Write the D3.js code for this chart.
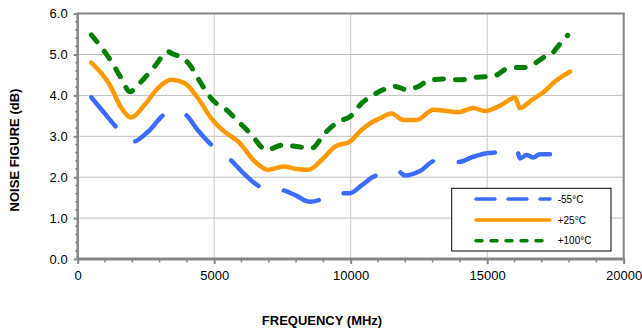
<!DOCTYPE html>
<html><head><meta charset="utf-8">
<script src="https://cdn.jsdelivr.net/npm/d3@7"></script>
<style>
html,body{margin:0;padding:0;background:#fff;}
svg{display:block;font-family:Arial,"Liberation Sans",sans-serif;}
</style></head>
<body><svg id="chart" width="642" height="329"></svg>
<script>
// ---- data ----
const seriesNames = ["-55°C", "+25°C", "+100°C"];
const freqMinus55 = [500,1000,1476,2026,2575,3187,3500,3919,4400,4931,5579,6128,6678,7000,7472,8000,8500,8875,9300,9670,9974,10400,10827,11011,11400,11744,11989,12538,13088,13500,13941,14491,15041,15348,15700,16080,16201,16445,16689,16934,17300];
const nfMinus55   = [3.95,3.55,3.18,2.87,3.11,3.54,3.60,3.54,3.15,2.77,2.44,2.06,1.77,1.72,1.69,1.55,1.40,1.45,1.58,1.61,1.61,1.80,2.01,2.06,2.14,2.14,2.04,2.15,2.40,2.38,2.37,2.50,2.59,2.61,2.66,2.67,2.46,2.54,2.48,2.56,2.56];
const freqPlus25 = [500,1172,1600,1963,2454,2941,3429,3919,4406,4894,5400,5883,6495,6982,7531,8020,8447,8937,9425,9974,10403,10827,11073,11502,11927,12417,13025,13516,13941,14491,14920,15531,16018,16201,16630,17117,17484,18033];
const nfPlus25   = [4.80,4.26,3.69,3.46,3.77,4.18,4.38,4.30,3.93,3.44,3.10,2.87,2.38,2.18,2.26,2.20,2.18,2.42,2.75,2.87,3.16,3.36,3.44,3.56,3.40,3.40,3.65,3.62,3.59,3.69,3.62,3.77,3.95,3.69,3.89,4.11,4.34,4.58];
const freqPlus100 = [500,1231,1597,1905,2271,2820,3308,3491,3857,4102,4406,4835,5139,5443,5762,6312,6922,7531,8020,8570,9059,9546,9974,10403,10827,11194,11622,12051,12476,12905,13516,14003,14553,15041,15348,15714,16080,16323,16689,17117,17362,17545,17950];
const nfPlus100   = [5.48,4.83,4.42,4.09,4.30,4.71,5.07,5.01,4.91,4.75,4.42,3.97,3.77,3.65,3.44,3.08,2.67,2.79,2.75,2.71,3.08,3.36,3.48,3.81,4.01,4.14,4.22,4.14,4.22,4.38,4.40,4.38,4.44,4.46,4.50,4.65,4.68,4.68,4.76,4.95,5.01,5.16,5.47];
const xTicks = [0,5000,10000,15000,20000];
const yTicks = [0,1,2,3,4,5,6];
const xTitle = "FREQUENCY (MHz)";
const yTitle = "NOISE FIGURE (dB)";

// ---- drawing ----
const svg = d3.select("#chart");
const x = d3.scaleLinear().domain([0,20000]).range([77.7,623.7]);
const y = d3.scaleLinear().domain([0,6]).range([259,13.6]);
const grey = "#868686";

// gridlines
const g = svg.append("g");
g.selectAll(".hg").data(yTicks.filter(d=>d>0 && d<6)).enter().append("line")
  .attr("x1",x(0)).attr("x2",x(20000)).attr("y1",d=>y(d)).attr("y2",d=>y(d))
  .attr("stroke","#c0c0c0").attr("stroke-width",1);
g.selectAll(".vg").data(xTicks.filter(d=>d>0 && d<20000)).enter().append("line")
  .attr("y1",y(0)).attr("y2",y(6)).attr("x1",d=>x(d)).attr("x2",d=>x(d))
  .attr("stroke","#c8c8c8").attr("stroke-width",1);

// plot border top/right
svg.append("line").attr("x1",x(0)).attr("x2",x(20000)+1).attr("y1",y(6)).attr("y2",y(6)).attr("stroke",grey).attr("stroke-width",2);
svg.append("line").attr("x1",x(20000)).attr("x2",x(20000)).attr("y1",y(6)).attr("y2",y(0)).attr("stroke",grey).attr("stroke-width",2);

// y axis
const yAxis = d3.axisLeft(y).tickValues(yTicks).tickFormat(d3.format(".1f")).tickSize(4).tickPadding(6);
const ya = svg.append("g").attr("transform",`translate(${x(0)},0)`).call(yAxis);
ya.select(".domain").remove();
ya.selectAll(".tick line").attr("stroke",grey).attr("stroke-width",2);
ya.selectAll("text").attr("font-size",13).attr("fill","#000").attr("font-family","Arial, 'Liberation Sans', sans-serif");
const yMinor = d3.range(0,6.01,0.2).filter(v=>Math.abs(v-Math.round(v))>0.01);
svg.append("g").selectAll("line").data(yMinor).enter().append("line")
  .attr("x1",x(0)-2.5).attr("x2",x(0)).attr("y1",d=>y(d)).attr("y2",d=>y(d))
  .attr("stroke",grey).attr("stroke-width",1.5);
svg.append("line").attr("x1",x(0)).attr("x2",x(0)).attr("y1",y(6)-1).attr("y2",y(0)).attr("stroke",grey).attr("stroke-width",2.5);

// x axis
const xAxis = d3.axisBottom(x).tickValues(xTicks).tickFormat(d3.format("d")).tickSize(5).tickPadding(7);
const xa = svg.append("g").attr("transform",`translate(0,${y(0)})`).call(xAxis);
xa.select(".domain").remove();
xa.selectAll(".tick line").attr("stroke",grey).attr("stroke-width",2);
xa.selectAll("text").attr("font-size",13).attr("fill","#000").attr("font-family","Arial, 'Liberation Sans', sans-serif");
const xMinor = d3.range(1000,20000,1000).filter(v=>v%5000!==0);
svg.append("g").selectAll("line").data(xMinor).enter().append("line")
  .attr("x1",d=>x(d)).attr("x2",d=>x(d)).attr("y1",y(0)).attr("y2",y(0)+3.5)
  .attr("stroke",grey).attr("stroke-width",1.5);
svg.append("line").attr("x1",x(0)-1).attr("x2",x(20000)+1).attr("y1",y(0)).attr("y2",y(0)).attr("stroke",grey).attr("stroke-width",3);

// titles
svg.append("text").attr("x",322).attr("y",325).attr("text-anchor","middle")
  .attr("font-size",13).attr("font-weight","bold").text(xTitle);
svg.append("text").attr("transform","translate(19,150) rotate(-90)").attr("text-anchor","middle")
  .attr("font-size",13).attr("font-weight","bold").text(yTitle);

// series
const series = [
  {name:seriesNames[0], f:freqMinus55, v:nfMinus55, color:"#3b6cff", width:4.5, dash:"37.5,26", legDash:"19,13"},
  {name:seriesNames[1], f:freqPlus25, v:nfPlus25, color:"#ff9900", width:4.5, dash:null, legDash:null},
  {name:seriesNames[2], f:freqPlus100, v:nfPlus100, color:"#007f00", width:5, dash:"9,12", legDash:"6,9"}
];
const line = d3.line().x(d=>x(d[0])).y(d=>y(d[1])).curve(d3.curveMonotoneX);
const order = [1,0,2];
order.forEach(i=>{
  const s = series[i];
  svg.append("path").datum(d3.zip(s.f,s.v)).attr("d",line)
    .attr("fill","none").attr("stroke",s.color).attr("stroke-width",s.width)
    .attr("stroke-linecap","round").attr("stroke-linejoin","round")
    .attr("stroke-dasharray",s.dash);
});

// legend
const lg = svg.append("g");
lg.append("rect").attr("x",451.7).attr("y",188.3).attr("width",159.3).attr("height",62.7)
  .attr("fill","#fff").attr("stroke","#000").attr("stroke-width",1);
const ly = [199,220,240.7];
series.forEach((s,i)=>{
  lg.append("line").attr("x1",476).attr("x2",550).attr("y1",ly[i]).attr("y2",ly[i])
    .attr("stroke",s.color).attr("stroke-width",3.5).attr("stroke-linecap","round")
    .attr("stroke-dasharray",s.legDash);
  lg.append("text").attr("x",557.7).attr("y",ly[i]+3.6).attr("font-size",10).attr("fill","#000").text(s.name);
});
</script></body></html>
